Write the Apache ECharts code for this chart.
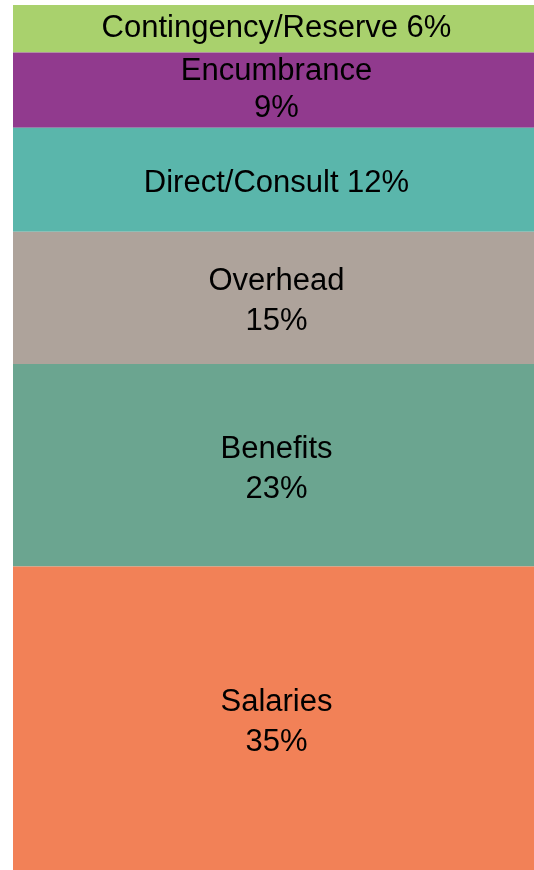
<!DOCTYPE html>
<html>
<head>
<meta charset="utf-8">
<script src="https://cdn.jsdelivr.net/npm/echarts@6/dist/echarts.min.js"></script>
<style>
  html, body { margin: 0; padding: 0; background: #fff; }
  #chart { width: 534px; height: 870px; }
</style>
</head>
<body>
<div id="chart"></div>
<script>
// segments, top to bottom
var names = ["Contingency/Reserve", "Encumbrance", "Direct/Consult", "Overhead", "Benefits", "Salaries"];
var values = [5.5, 8.7, 12.0, 15.3, 23.4, 35.1];
var labelSep = [" ", "\n", " ", "\n", "\n", "\n"];
var colors = ["#A9D16D", "#913A8E", "#5AB6AB", "#AEA39B", "#6BA590", "#F28157"];

var myChart = echarts.init(document.getElementById("chart"));

var series = names.map(function (name, i) {
  var squeezed = i === 1; // encumbrance text sits tighter
  return {
    name: name,
    type: "bar",
    stack: "total",
    barWidth: "100%",
    data: [values[i]],
    itemStyle: { color: colors[i] },
    label: {
      show: true,
      position: "inside",
      color: "#000",
      fontFamily: "Liberation Sans, Arial, sans-serif",
      fontSize: 31,
      lineHeight: squeezed ? 37 : 40,
      offset: [3, i < 2 ? 0 : 4],
      formatter: function () {
        return name + labelSep[i] + Math.round(values[i]) + "%";
      }
    }
  };
});

myChart.setOption({
  animation: false,
  grid: { left: 13, right: 0, top: 5, bottom: 0 },
  xAxis: {
    type: "category",
    data: ["budget"],
    show: false
  },
  yAxis: {
    type: "value",
    min: 0,
    max: 100,
    inverse: true,
    show: false
  },
  series: series
});
</script>
</body>
</html>
